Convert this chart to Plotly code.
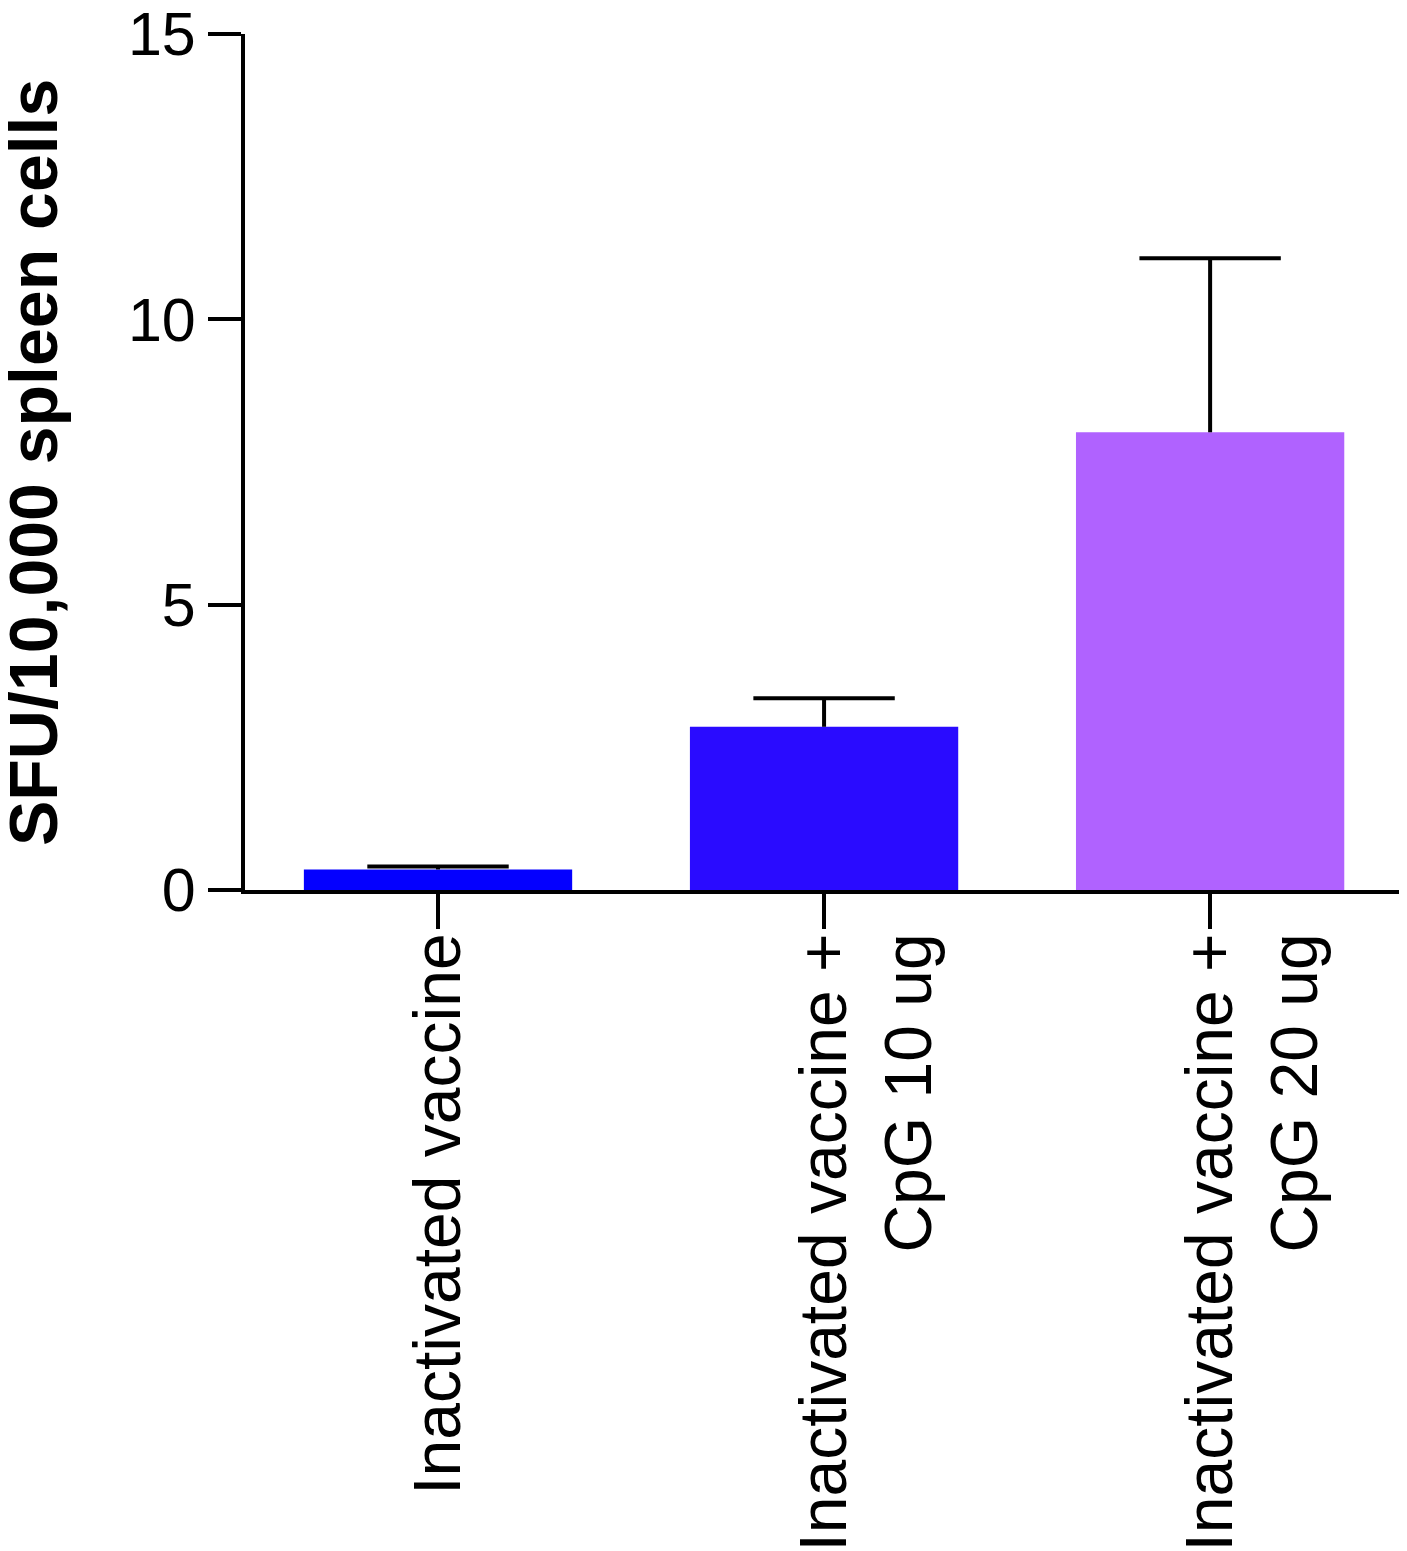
import plotly.graph_objects as go

categories = ["Inactivated vaccine<br> ",
              "Inactivated vaccine +<br>CpG 10 ug",
              "Inactivated vaccine +<br>CpG 20 ug"]
means = [0.36, 2.86, 8.02]
errors_up = [0.05, 0.50, 3.05]
bar_colors = ["#0400FF", "#2A0BFF", "#B062FF"]
y_ticks = [0, 5, 10, 15]

FONT = "Liberation Sans, Arial, Helvetica, sans-serif"

W, H = 1399, 1543
ML, MT, MR, MB = 237, 26, 0, 661

tops = [m + e for m, e in zip(means, errors_up)]

fig = go.Figure()
fig.add_trace(go.Bar(
    x=categories,
    y=means,
    width=0.695,
    marker=dict(color=bar_colors, line=dict(width=0)),
    hoverinfo="x+y",
))

# error stems (upward only)
stem_x, stem_y = [], []
for c, m, t in zip(categories, means, tops):
    stem_x += [c, c, None]
    stem_y += [m, t, None]
fig.add_trace(go.Scatter(
    x=stem_x, y=stem_y, mode="lines",
    line=dict(color="black", width=4),
    hoverinfo="skip", cliponaxis=False,
))
# error caps (line-ew length = 1.4 * size)
fig.add_trace(go.Scatter(
    x=categories, y=tops, mode="markers",
    marker=dict(symbol="line-ew", size=101, color="black",
                line=dict(color="black", width=4)),
    hoverinfo="skip", cliponaxis=False,
))

fig.update_layout(
    width=W, height=H,
    margin=dict(l=ML, r=MR, t=MT, b=MB, autoexpand=False),
    plot_bgcolor="white", paper_bgcolor="white",
    showlegend=False,
    font=dict(family=FONT, color="black"),
    xaxis=dict(
        type="category",
        range=[-0.5, 2.51],
        showline=True, linecolor="black", linewidth=4,
        ticks="outside", ticklen=35, tickwidth=4, tickcolor="black",
        tickangle=-90,
        tickfont=dict(size=66, family=FONT, color="black"),
        ticklabelstandoff=-22,
        ticklabelshift=43,
        ticklabeloverflow="allow",
        showgrid=False, zeroline=False, automargin=False,
    ),
    yaxis=dict(
        range=[0, 15],
        tickvals=y_ticks,
        ticktext=[str(v) for v in y_ticks],
        showline=True, linecolor="black", linewidth=4,
        ticks="outside", ticklen=33, tickwidth=4, tickcolor="black",
        tickfont=dict(size=61, family=FONT, color="black"),
        ticklabeloverflow="allow",
        showgrid=False, zeroline=False, automargin=False,
    ),
    annotations=[dict(
        text="<b>SFU/10,000 spleen cells</b>",
        xref="paper", yref="paper",
        x=(25 - ML) / (W - ML - MR), y=0.4988,
        xanchor="center", yanchor="middle",
        textangle=-90, showarrow=False,
        font=dict(size=68, family=FONT, color="black"),
    )],
)

fig.write_html("out.html")
